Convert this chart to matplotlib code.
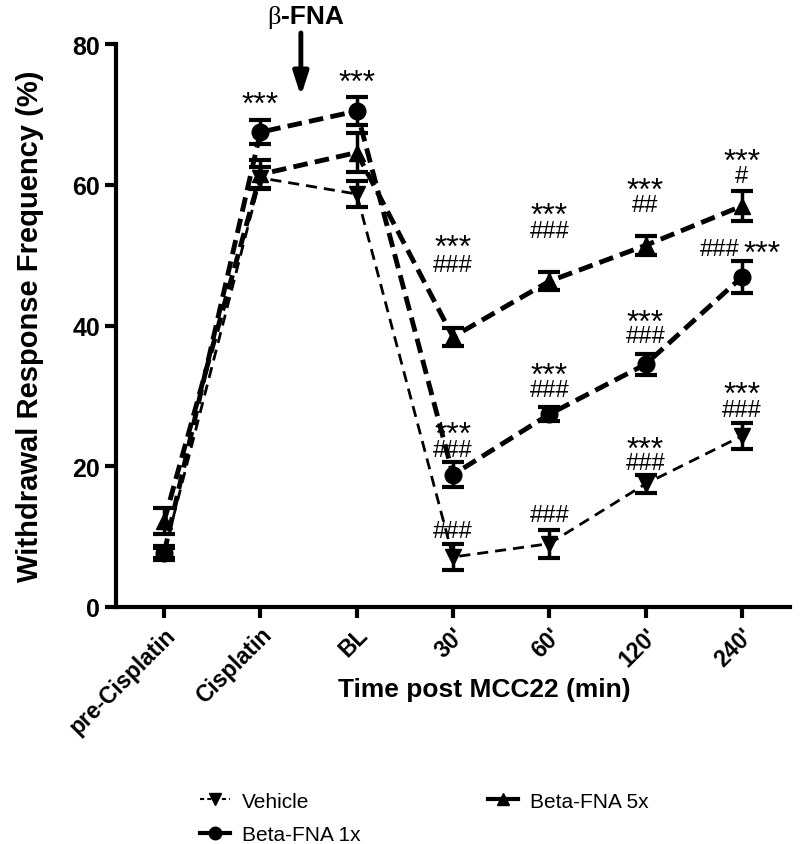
import numpy as np
import matplotlib
matplotlib.use('Agg')
import matplotlib.pyplot as plt
from matplotlib.lines import Line2D

plt.rcParams['font.family'] = ['Liberation Sans', 'DejaVu Sans']

categories = ['pre-Cisplatin', 'Cisplatin', 'BL', "30'", "60'", "120'", "240'"]

vehicle = [7.7, 61.0, 58.7, 7.1, 9.0, 17.5, 24.3]
vehicle_err = [1.0, 1.6, 1.8, 1.8, 2.0, 1.3, 1.8]
fna1x = [7.7, 67.5, 70.5, 18.8, 27.4, 34.5, 46.9]
fna1x_err = [0.7, 1.7, 2.0, 1.8, 1.0, 1.5, 2.3]
fna5x = [12.2, 61.5, 64.6, 38.4, 46.3, 51.4, 57.0]
fna5x_err = [1.8, 2.0, 2.8, 1.3, 1.3, 1.3, 2.2]

# significance marks: (x index, baseline value, text)
star_marks = [
    (1, 70.2), (2, 73.4),
    (3, 49.9), (3, 23.3),
    (4, 54.4), (4, 31.7),
    (5, 58.0), (5, 39.2), (5, 21.2),
    (6, 62.2), (6, 29.0),
]
hash_marks = [
    (3, 47.7, '###'), (3, 21.4, '###'), (3, 9.9, '###'),
    (4, 52.6, '###'), (4, 30.0, '###'), (4, 12.2, '###'),
    (5, 56.3, '##'), (5, 37.6, '###'), (5, 19.6, '###'),
    (6, 60.4, '#'), (6, 27.1, '###'),
]

fig = plt.figure(figsize=(8, 8.45), dpi=100)
ax = fig.add_axes([0.145, 0.2805, 0.8425, 0.666])
x = np.arange(len(categories))

thin = (0, (4, 2.5))
thick = (0, (3, 1.5))
ax.errorbar(x, vehicle, yerr=vehicle_err, color='black', lw=2, ls=thin,
            marker='v', ms=12, capsize=8, capthick=3, elinewidth=2.5)
ax.errorbar(x, fna1x, yerr=fna1x_err, color='black', lw=3.5, ls=thick,
            marker='o', ms=12, capsize=8, capthick=3, elinewidth=2.5)
ax.errorbar(x, fna5x, yerr=fna5x_err, color='black', lw=3.5, ls=thick,
            marker='^', ms=12, capsize=8, capthick=3, elinewidth=2.5)

for xi, yi in star_marks:
    ax.text(xi, yi, '***', ha='center', va='baseline', fontsize=23)
for xi, yi, txt in hash_marks:
    ax.text(xi, yi, txt, ha='center', va='baseline', fontsize=17)
# 240' Beta-FNA 1x: marks side by side
ax.text(5.98, 50.0, '###', ha='right', va='baseline', fontsize=17)
ax.text(6.02, 49.0, '***', ha='left', va='baseline', fontsize=23)

ax.annotate('', xy=(1.42, 72.2), xytext=(1.42, 82.0),
            arrowprops=dict(arrowstyle='-|>,head_width=0.45,head_length=1.4',
                            color='black', lw=3.5),
            annotation_clip=False)
ax.text(1.216, 83.0, '\u03b2', ha='right', va='baseline', fontsize=19,
        family=['Liberation Serif', 'DejaVu Serif'])
ax.text(1.216, 83.0, '-FNA', ha='left', va='baseline', fontsize=19, fontweight='bold')

ax.set_xlim(-0.5, 6.5)
ax.set_ylim(0, 80)
ax.set_yticks([0, 20, 40, 60, 80])
ax.set_xticks(x)
ax.set_xticklabels(categories, rotation=45, ha='right', rotation_mode='anchor',
                   fontsize=16.5, fontweight='bold')
for lbl in ax.get_yticklabels():
    lbl.set_fontsize(18)
    lbl.set_fontweight('bold')
ax.spines['top'].set_visible(False)
ax.spines['right'].set_visible(False)
ax.spines['left'].set_linewidth(3)
ax.spines['bottom'].set_linewidth(3)
ax.tick_params(width=3, length=8)
ax.set_ylabel('Withdrawal Response Frequency (%)', fontsize=21, fontweight='bold',
              labelpad=20)
fig.text(0.605, 0.183, 'Time post MCC22 (min)', ha='center', va='center',
         fontsize=19, fontweight='bold')

handles = [
    Line2D([], [], color='black', lw=1.5, ls=(0, (2, 1.5)), marker='v', ms=9),
    Line2D([], [], color='black', lw=3, marker='o', ms=9),
    Line2D([], [], color='black', lw=3, marker='^', ms=9),
]
labels = ['Vehicle', 'Beta-FNA 1x', 'Beta-FNA 5x']
fig.legend(handles, labels, loc='upper left', bbox_to_anchor=(0.2375, 0.0743), ncol=2,
           frameon=False, fontsize=15, columnspacing=6.1, handlelength=1.44,
           handletextpad=0.57, borderpad=0, labelspacing=0.7)

fig.savefig('out.png', dpi=100)
